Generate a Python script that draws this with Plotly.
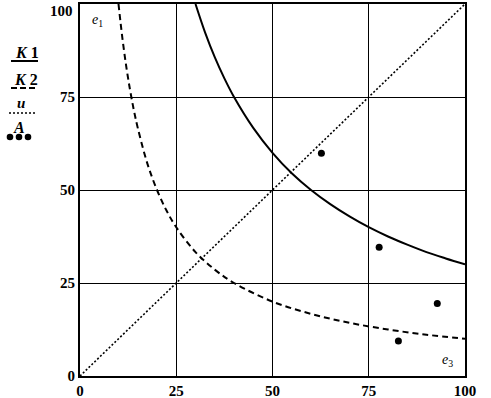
import plotly.graph_objects as go

# Data
k1_x = [30, 32.5, 35, 37.5, 40, 45, 50, 55, 60, 65, 70, 75, 80, 85, 90, 95, 100]
k1_y = [100, 92.3, 85.7, 80, 75, 66.7, 60, 54.5, 50, 46.2, 42.9, 40, 37.5, 35.3, 33.3, 31.6, 30]
k2_x = [10, 11, 12, 13, 14, 15, 17.5, 20, 22.5, 25, 30, 35, 40, 50, 60, 70, 80, 90, 100]
k2_y = [100, 90.9, 83.3, 76.9, 71.4, 66.7, 57.1, 50, 44.4, 40, 33.3, 28.6, 25, 20, 16.7, 14.3, 12.5, 11.1, 10]
u_x = [0, 100]
u_y = [0, 100]
a_x = [62.7, 77.7, 82.7, 92.8]
a_y = [59.9, 34.6, 9.4, 19.5]
tick_vals = [0, 25, 50, 75, 100]
tick_text = ["0", "25", "50", "75", "100"]

FONT = "Liberation Serif"

fig = go.Figure()
fig.add_trace(go.Scatter(x=k1_x, y=k1_y, mode="lines", line=dict(color="black", width=2, shape="spline"), name="K1", showlegend=False))
fig.add_trace(go.Scatter(x=k2_x, y=k2_y, mode="lines", line=dict(color="black", width=2, dash="6px,4px", shape="spline"), name="K2", showlegend=False))
fig.add_trace(go.Scatter(x=u_x, y=u_y, mode="lines", line=dict(color="black", width=1.6, dash="2px,2px"), name="u", showlegend=False))
fig.add_trace(go.Scatter(x=a_x, y=a_y, mode="markers", marker=dict(color="black", size=7), name="A", showlegend=False))

L, R, T, B = 80, 26, 4, 22
W, H = 491, 398
pw, ph = W - L - R, H - T - B

def px(x):
    return (x - L) / pw

def py(y):
    return (H - B - y) / ph

shapes = [
    dict(type="line", xref="paper", yref="paper", x0=px(11), x1=px(38), y0=py(61), y1=py(61), line=dict(color="black", width=2)),
    dict(type="line", xref="paper", yref="paper", x0=px(11), x1=px(37), y0=py(88), y1=py(88), line=dict(color="black", width=2, dash="6px,3px")),
    dict(type="line", xref="paper", yref="paper", x0=px(9), x1=px(35), y0=py(113), y1=py(113), line=dict(color="black", width=1.6, dash="2px,2px")),
]
for cx in [10, 19, 28]:
    shapes.append(dict(type="circle", xref="paper", yref="paper", x0=px(cx - 3.3), x1=px(cx + 3.3), y0=py(137 + 3.3), y1=py(137 - 3.3), fillcolor="black", line=dict(color="black", width=0)))

def ann(x, y, text, size=15, ref="paper", xanchor="center"):
    d = dict(text=text, showarrow=False, xanchor=xanchor, yanchor="middle",
             font=dict(family=FONT, size=size, color="black"))
    if ref == "paper":
        d.update(xref="paper", yref="paper", x=px(x), y=py(y))
    else:
        d.update(x=x, y=y)
    return d

annotations = [
    ann(27, 52, "<b><i>K</i> 1</b>", 16),
    ann(26, 79, "<b><i>K</i> 2</b>", 16),
    ann(21, 103, "<b><i>u</i></b>", 15),
    ann(19, 127, "<b><i>A</i></b>", 16),
    ann(4.5, 95.5, "<i>e</i><sub>1</sub>", 14, ref="data"),
    ann(95.5, 4.3, "<i>e</i><sub>3</sub>", 14, ref="data"),
    # top y tick label (would be clipped at the figure edge)
    ann(75, 11, "<b>" + tick_text[-1] + "</b>", 15, xanchor="right"),
]

y_ticktext = [f"<b>{t}</b>" for t in tick_text[:-1]] + [""]

fig.update_layout(
    width=W, height=H,
    margin=dict(l=L, r=R, t=T, b=B, autoexpand=False),
    paper_bgcolor="white", plot_bgcolor="white",
    shapes=shapes, annotations=annotations,
    font=dict(family=FONT, size=15, color="black"),
    showlegend=False,
)
fig.update_xaxes(range=[0, 100], tickvals=tick_vals, ticktext=[f"<b>{t}</b>" for t in tick_text],
                 showgrid=True, gridcolor="black", gridwidth=1, zeroline=False,
                 showline=True, linecolor="black", linewidth=2, mirror=True, ticks="", ticklen=0,
                 automargin=False)
fig.update_yaxes(range=[0, 100], tickvals=tick_vals, ticktext=y_ticktext,
                 showgrid=True, gridcolor="black", gridwidth=1, zeroline=False,
                 showline=True, linecolor="black", linewidth=2, mirror=True, ticks="", ticklen=0,
                 automargin=False)

fig.write_html("out.html", config={"displayModeBar": False},
               post_script="document.body.style.margin='0';document.body.style.padding='0';")
